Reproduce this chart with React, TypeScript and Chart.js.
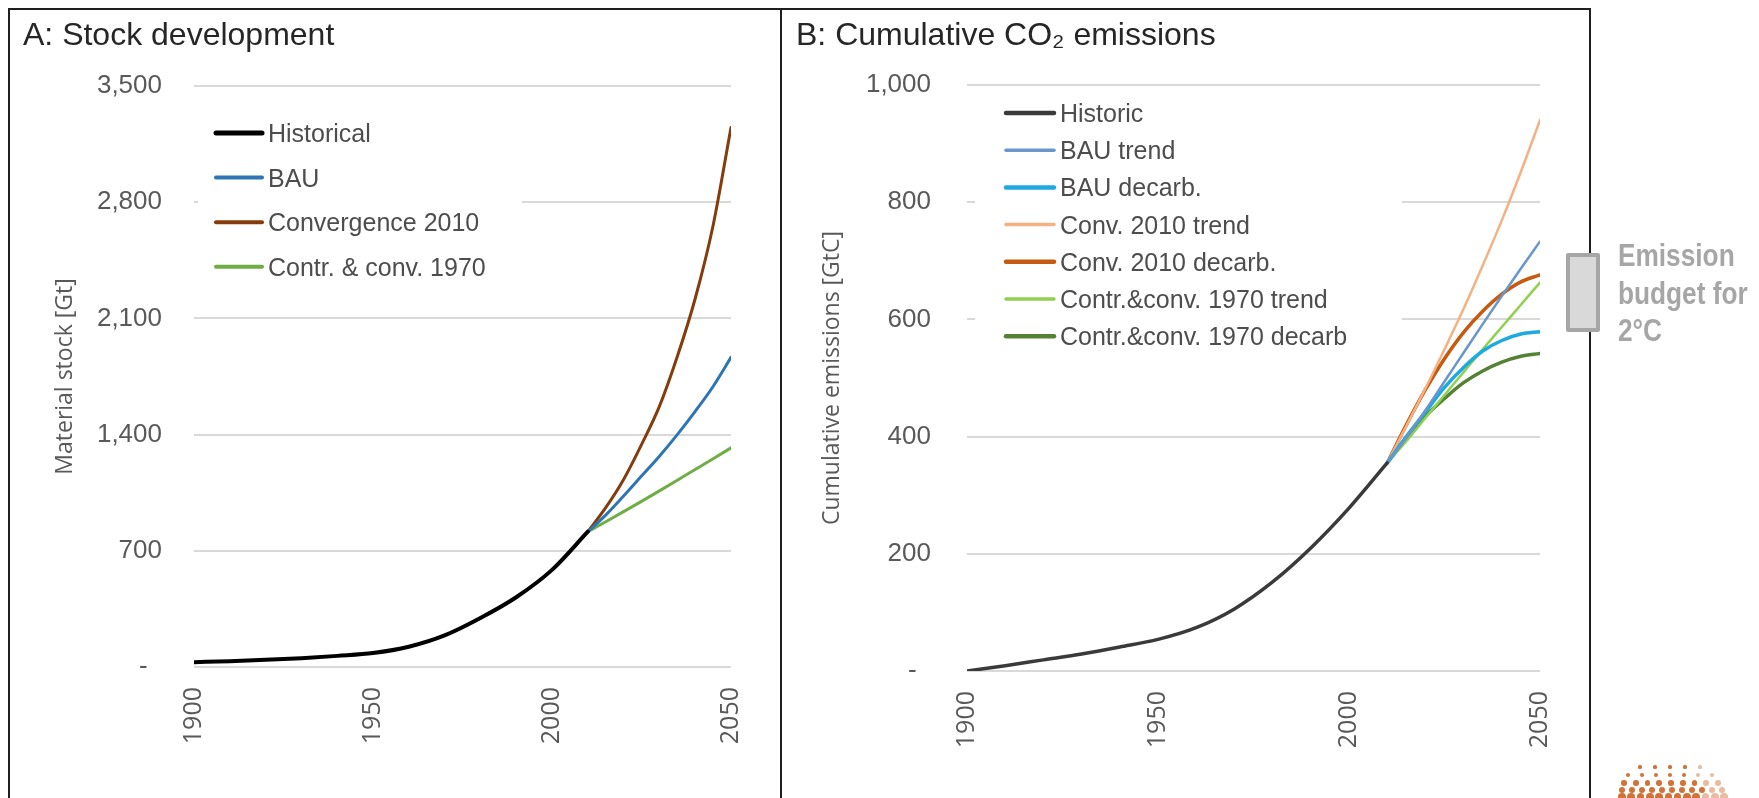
import React, { useEffect, useRef } from "react";
import { Chart, registerables } from "chart.js";

Chart.register(...registerables);

// ---------- data ----------
const histYears = [1900, 1910, 1920, 1930, 1940, 1950, 1960, 1970, 1980, 1990, 2000, 2010];
const scenYears = [2010, 2015, 2020, 2025, 2030, 2035, 2040, 2045, 2050];
const xTickValues = [1900, 1950, 2000, 2050];

// Panel A: material stock [Gt]
const stockLabels = ["Historical", "BAU", "Convergence 2010", "Contr. & conv. 1970"];
const stockHistorical = [29, 35, 43, 53, 67, 84, 122, 190, 295, 420, 585, 815];
const stockBAU = [815, 915, 1030, 1150, 1270, 1400, 1540, 1690, 1865];
const stockConvergence2010 = [815, 960, 1130, 1340, 1570, 1870, 2220, 2660, 3250];
const stockContrConv1970 = [815, 875, 936, 998, 1061, 1125, 1190, 1255, 1320];
const stockYTicks = [0, 700, 1400, 2100, 2800, 3500];

// Panel B: cumulative CO2 emissions [GtC]
const emisLabels = [
  "Historic",
  "BAU trend",
  "BAU decarb.",
  "Conv. 2010 trend",
  "Conv. 2010 decarb.",
  "Contr.&conv. 1970 trend",
  "Contr.&conv. 1970 decarb",
];
const emisHistoric = [0, 9, 19, 29, 41, 54, 74, 106, 152, 210, 278, 355];
const emisBAUTrend = [355, 398, 445, 494, 543, 592, 640, 687, 733];
const emisBAUDecarb = [355, 400, 442, 484, 518, 546, 564, 575, 579];
const emisConvTrend = [355, 418, 482, 549, 618, 692, 769, 852, 940];
const emisConvDecarb = [355, 420, 480, 533, 578, 614, 643, 664, 676];
const emisContrTrend = [355, 392, 432, 471, 510, 549, 587, 625, 663];
const emisContrDecarb = [355, 398, 435, 465, 492, 512, 527, 537, 542];
const emisYTicks = [0, 200, 400, 600, 800, 1000];

// ---------- helpers ----------
const pts = (xs: number[], ys: number[]) => xs.map((x, i) => ({ x, y: ys[i] }));
const fmtY = (v: any) => (Number(v) === 0 ? "-  " : Number(v).toLocaleString("en-US"));

const insideLegend = {
  id: "insideLegend",
  afterDatasetsDraw(chart: any, _args: any, opts: any) {
    if (!opts || !opts.display) return;
    const ctx = chart.ctx;
    ctx.save();
    ctx.fillStyle = "#ffffff";
    ctx.fillRect(opts.boxL, opts.boxT, opts.boxR - opts.boxL, opts.boxB - opts.boxT);
    chart.data.datasets.forEach((ds: any, i: number) => {
      const y = opts.firstY + i * opts.rowH;
      ctx.strokeStyle = ds.borderColor;
      ctx.lineWidth = ds.borderWidth + 1;
      ctx.lineCap = "round";
      ctx.beginPath();
      ctx.moveTo(opts.sampleX0, y);
      ctx.lineTo(opts.sampleX1, y);
      ctx.stroke();
      ctx.fillStyle = opts.color;
      ctx.font = opts.font;
      ctx.textAlign = "left";
      ctx.textBaseline = "alphabetic";
      ctx.fillText(ds.label, opts.textX, y + opts.capHalf);
    });
    ctx.restore();
  },
};

const AXIS_GRAY = "#595959";
const tickFontY = { family: "'Liberation Sans', Arial, sans-serif", size: 26 };
const tickFontX = { family: "'Open Sans', 'DejaVu Sans', sans-serif", size: 25 };
const titleFont = { family: "'Open Sans', 'DejaVu Sans', sans-serif", size: 23 };

function baseOptions(p: {
  top: number;
  right: number;
  bottom: number;
  yWidth: number;
  yMax: number;
  yTicks: number[];
  yPad: number;
  yTitle: string;
  yTitlePad: number;
  legend: any;
}) {
  return {
    responsive: false,
    animation: false,
    events: [],
    layout: { padding: { left: 0, top: p.top, right: p.right, bottom: p.bottom } },
    elements: {
      point: { radius: 0 },
      line: { cubicInterpolationMode: "monotone", borderCapStyle: "round", borderJoinStyle: "round" },
    },
    plugins: {
      legend: { display: false },
      tooltip: { enabled: false },
      insideLegend: p.legend,
    },
    scales: {
      x: {
        type: "linear",
        min: 1900,
        max: 2050,
        afterFit: (s: any) => {
          s.height = 100;
        },
        afterBuildTicks: (s: any) => {
          s.ticks = xTickValues.map((v) => ({ value: v }));
        },
        grid: { display: false, drawTicks: false },
        border: { display: false },
        ticks: {
          autoSkip: false,
          maxRotation: 90,
          minRotation: 90,
          padding: 20,
          font: tickFontX,
          color: AXIS_GRAY,
          callback: (v: any) => String(v),
        },
      },
      y: {
        type: "linear",
        min: 0,
        max: p.yMax,
        afterFit: (s: any) => {
          s.width = p.yWidth;
        },
        afterBuildTicks: (s: any) => {
          s.ticks = p.yTicks.map((v) => ({ value: v }));
        },
        grid: { color: "#d9d9d9", lineWidth: 2, drawTicks: false },
        border: { display: false },
        ticks: { padding: p.yPad, font: tickFontY, color: AXIS_GRAY, callback: fmtY },
        title: {
          display: true,
          text: p.yTitle,
          font: titleFont,
          color: AXIS_GRAY,
          padding: { top: p.yTitlePad, bottom: 0 },
        },
      },
    },
  };
}

const lineDs = (label: string, xs: number[], ys: number[], color: string, width: number) => ({
  label,
  data: pts(xs, ys),
  borderColor: color,
  backgroundColor: color,
  borderWidth: width,
  fill: false,
});

export default function App() {
  const refA = useRef<HTMLCanvasElement>(null);
  const refB = useRef<HTMLCanvasElement>(null);

  useEffect(() => {
    const chartA = new Chart(refA.current as HTMLCanvasElement, {
      type: "line",
      data: {
        datasets: [
          lineDs(stockLabels[0], histYears, stockHistorical, "#000000", 4),
          lineDs(stockLabels[1], scenYears, stockBAU, "#2e75b6", 3),
          lineDs(stockLabels[2], scenYears, stockConvergence2010, "#843c0c", 3),
          lineDs(stockLabels[3], scenYears, stockContrConv1970, "#70ad47", 3),
        ],
      },
      options: baseOptions({
        top: 86,
        right: 43,
        bottom: 31,
        yWidth: 194,
        yMax: 3500,
        yTicks: stockYTicks,
        yPad: 32,
        yTitle: "Material stock [Gt]",
        yTitlePad: 52,
        legend: {
          display: true,
          boxL: 198,
          boxT: 108,
          boxR: 522,
          boxB: 292,
          sampleX0: 216,
          sampleX1: 262,
          textX: 268,
          firstY: 133,
          rowH: 44.6,
          capHalf: 9,
          font: "25px 'Liberation Sans', Arial, sans-serif",
          color: "#4d4d4d",
        },
      }) as any,
      plugins: [insideLegend as any],
    } as any);

    const chartB = new Chart(refB.current as HTMLCanvasElement, {
      type: "line",
      data: {
        datasets: [
          lineDs(emisLabels[0], histYears, emisHistoric, "#3a3a3a", 3.5),
          lineDs(emisLabels[1], scenYears, emisBAUTrend, "#6a96cc", 2.5),
          lineDs(emisLabels[2], scenYears, emisBAUDecarb, "#1fa9e1", 3.5),
          lineDs(emisLabels[3], scenYears, emisConvTrend, "#f4b183", 2.5),
          lineDs(emisLabels[4], scenYears, emisConvDecarb, "#c55a11", 3.5),
          lineDs(emisLabels[5], scenYears, emisContrTrend, "#8fd14f", 2.5),
          lineDs(emisLabels[6], scenYears, emisContrDecarb, "#548235", 3.5),
        ],
      },
      options: baseOptions({
        top: 85,
        right: 48,
        bottom: 27,
        yWidth: 186,
        yMax: 1000,
        yTicks: emisYTicks,
        yPad: 36,
        yTitle: "Cumulative emissions [GtC]",
        yTitlePad: 38,
        legend: {
          display: true,
          boxL: 194,
          boxT: 95,
          boxR: 621,
          boxB: 355,
          sampleX0: 225,
          sampleX1: 273,
          textX: 279,
          firstY: 113,
          rowH: 37.2,
          capHalf: 9,
          font: "25px 'Liberation Sans', Arial, sans-serif",
          color: "#4d4d4d",
        },
      }) as any,
      plugins: [insideLegend as any],
    } as any);

    return () => {
      chartA.destroy();
      chartB.destroy();
    };
  }, []);

  // decorative dotted logo (bottom right)
  const logoRows = [
    { y: 767, x0: 1640, x1: 1700, n: 5, r: 1.6 },
    { y: 775, x0: 1628, x1: 1712, n: 7, r: 2.2 },
    { y: 783, x0: 1624, x1: 1718, n: 9, r: 2.8 },
    { y: 790, x0: 1622, x1: 1722, n: 11, r: 3.3 },
    { y: 797, x0: 1622, x1: 1724, n: 12, r: 3.8 },
  ];
  const dots: any[] = [];
  logoRows.forEach((row, ri) => {
    for (let k = 0; k < row.n; k++) {
      const x = row.x0 + ((row.x1 - row.x0) * k) / (row.n - 1);
      const t = k / (row.n - 1);
      const op = t > 0.8 ? 0.45 : 0.95;
      dots.push(
        <div
          key={ri + "-" + k}
          style={{
            position: "absolute",
            left: x - row.r,
            top: row.y - row.r,
            width: row.r * 2,
            height: row.r * 2,
            borderRadius: "50%",
            background: "#cf6a2c",
            opacity: op,
          }}
        />
      );
    }
  });

  const line = (l: number, t: number, w: number, h: number) => (
    <div style={{ position: "absolute", left: l, top: t, width: w, height: h, background: "#1f1f1f" }} />
  );

  const titleStyle: React.CSSProperties = {
    position: "absolute",
    top: 18,
    fontFamily: "'Liberation Sans', Arial, sans-serif",
    fontSize: 32,
    lineHeight: "32px",
    color: "#262626",
    whiteSpace: "nowrap",
  };

  return (
    <div
      style={{
        position: "fixed",
        left: 0,
        top: 0,
        width: 1759,
        height: 798,
        background: "#ffffff",
        overflow: "hidden",
      }}
    >
      <canvas
        ref={refA}
        width={781}
        height={798}
        style={{ position: "absolute", left: 0, top: 0, width: 781, height: 798 }}
      />
      <canvas
        ref={refB}
        width={809}
        height={798}
        style={{ position: "absolute", left: 781, top: 0, width: 809, height: 798 }}
      />
      {line(8, 8, 1583, 2)}
      {line(8, 8, 2, 790)}
      {line(780, 8, 2, 790)}
      {line(1589, 8, 2, 790)}
      <div style={{ ...titleStyle, left: 23 }}>A: Stock development</div>
      <div style={{ ...titleStyle, left: 796 }}>B: Cumulative CO₂ emissions</div>
      <div
        style={{
          position: "absolute",
          left: 1566,
          top: 253,
          width: 34,
          height: 79,
          boxSizing: "border-box",
          border: "4px solid #a6a6a6",
          borderRadius: 2,
          background: "#d9d9d9",
        }}
      />
      <div
        style={{
          position: "absolute",
          left: 1618,
          top: 237,
          fontFamily: "'Liberation Sans', Arial, sans-serif",
          fontWeight: "bold",
          fontSize: 32,
          lineHeight: "37.5px",
          color: "#a6a6a6",
          transform: "scaleX(0.82)",
          transformOrigin: "left top",
          whiteSpace: "nowrap",
        }}
      >
        <div>Emission</div>
        <div>budget for</div>
        <div>2°C</div>
      </div>
      {dots}
    </div>
  );
}
